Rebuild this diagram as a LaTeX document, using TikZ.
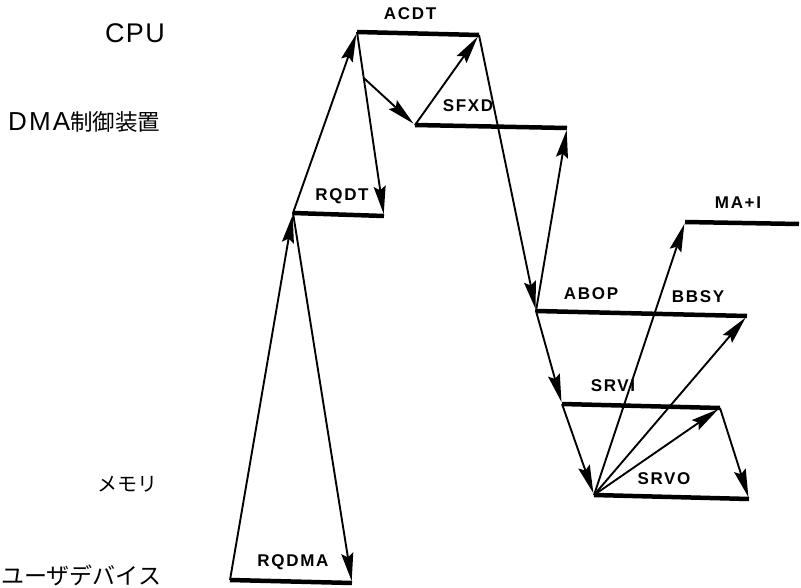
\documentclass[tikz,border=0pt]{standalone}
\usepackage{fontspec}
\setmainfont{Liberation Sans}
\newfontfamily\lblfont[LetterSpace=10]{Liberation Sans Bold}
\newfontfamily\cpufont[LetterSpace=5]{Liberation Sans}
\newfontfamily\axfont[LetterSpace=8]{Liberation Sans}
\newfontfamily\jpfont{Noto Sans CJK JP}
\usetikzlibrary{arrows.meta,calc}
\begin{document}
\begin{tikzpicture}[x=1pt,y=-1pt,
  lvl/.style={line width=4.5pt},
  sig/.style={line width=1.9pt, -{Stealth[length=28pt,width=12pt,inset=4pt]}, shorten >=2pt},
  lbl/.style={font=\lblfont\fontsize{17}{17}\selectfont, inner sep=0pt},
  side/.style={inner sep=0pt}]
\useasboundingbox (0,0) rectangle (801,588);

% level line end points
\coordinate (rqdmaL) at (230,580); \coordinate (rqdmaR) at (352,583);
\coordinate (rqdtL) at (293,213);  \coordinate (rqdtR) at (384,216);
\coordinate (acdtL) at (357,32);   \coordinate (acdtR) at (479,35);
\coordinate (sfxdL) at (415,125);  \coordinate (sfxdR) at (567,128);
\coordinate (maL) at (685,222);    \coordinate (maR) at (799,224);
\coordinate (abopL) at (536,311);  \coordinate (abopR) at (747,316);
\coordinate (srviL) at (562,404);  \coordinate (srviR) at (720,408);
\coordinate (srvoL) at (594,495);  \coordinate (srvoR) at (749,499);

% level lines
\draw[lvl] (rqdmaL) -- (rqdmaR);
\draw[lvl] (rqdtL) -- (rqdtR);
\draw[lvl] (acdtL) -- (acdtR);
\draw[lvl] (sfxdL) -- (sfxdR);
\draw[lvl] (maL) -- (maR);
\draw[lvl] (abopL) -- (abopR);
\draw[lvl] (srviL) -- (srviR);
\draw[lvl] (srvoL) -- (srvoR);

% signal arrows
\draw[sig] (rqdmaL) -- (rqdtL);
\draw[sig] (rqdtL) -- (acdtL);
\draw[sig] (acdtL) -- (rqdtR);
\draw[sig] (rqdtL) -- (rqdmaR);
\coordinate (br) at ($(acdtL)!0.25!(rqdtR)$);
\draw[sig] (br) -- (sfxdL);
\draw[sig] (sfxdL) -- (acdtR);
\draw[sig] (acdtR) -- (abopL);
\draw[sig] (abopL) -- (sfxdR);
\draw[sig] (abopL) -- (srviL);
\draw[sig] (srviL) -- (srvoL);
\draw[sig] (srvoL) -- (maL);
\draw[sig] (srvoL) -- (abopR);
\draw[sig] (srvoL) -- (srviR);
\draw[sig] (srviR) -- (srvoR);

% labels
\node[lbl] (tACDT) at (410,14) {ACDT};
\node[lbl] (tSFXD) at (468,106) {SFXD};
\node[lbl] (tRQDT) at (342,196) {RQDT};
\node[lbl] (tRQDMA) at (293,562) {RQDMA};
\node[lbl] (tABOP) at (591,294) {ABOP};
\node[lbl] (tBBSY) at (698,297) {BBSY};
\node[lbl] (tMA) at (738,203) {MA+I};
\node[lbl] (tSRVI) at (613,386) {SRVI};
\node[lbl] (tSRVO) at (664,479) {SRVO};

% side labels
\node[side, font=\cpufont\fontsize{27}{27}\selectfont] (cpu) at (135,33) {CPU};
\node[side, anchor=west] (dma) at (8,122) {\axfont\fontsize{26}{26}\selectfont DMA\jpfont\fontsize{22.5}{22.5}\selectfont 制御装置};
\node[side, font=\jpfont\fontsize{20}{20}\selectfont] (mem) at (127,484) {メモリ};
\node[side, anchor=west, font=\jpfont\fontsize{23}{23}\selectfont] (usr) at (1,575) {ユーザデバイス};
\end{tikzpicture}
\end{document}
